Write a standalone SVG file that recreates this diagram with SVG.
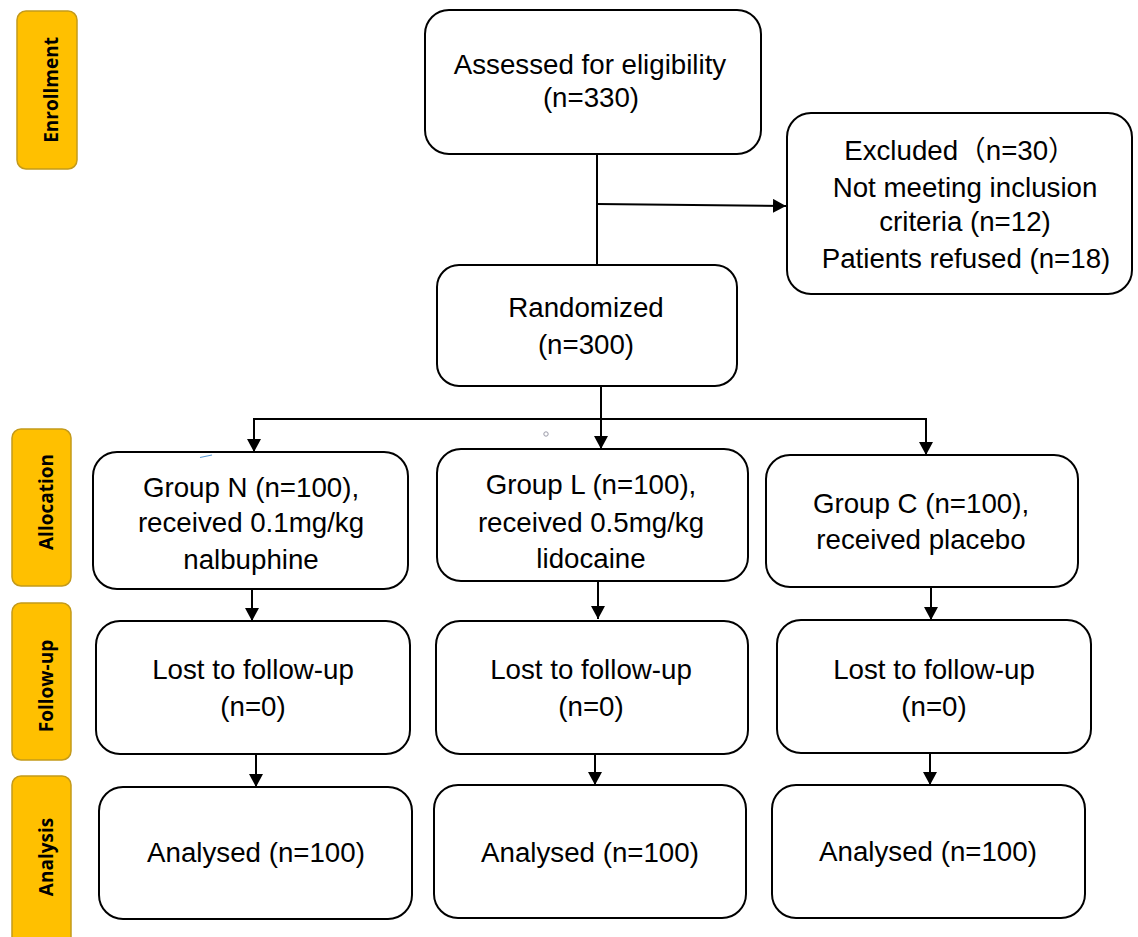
<svg xmlns="http://www.w3.org/2000/svg" width="1138" height="937" viewBox="0 0 1138 937">
<style>
.box{fill:#fff;stroke:#000;stroke-width:2}
.side{fill:#FFC000;stroke:#C49A1A;stroke-width:1.5}
.t{font-family:"Liberation Sans",Arial,"Noto Sans CJK SC",sans-serif;font-size:27.7px;fill:#000;text-anchor:middle}
.s{font-family:"Open Sans","DejaVu Sans",sans-serif;font-weight:bold;font-size:19px;fill:#000;text-anchor:middle}
.c{fill:none;stroke:#000;stroke-width:2}
</style>
<defs>
<marker id="ah" markerUnits="userSpaceOnUse" markerWidth="15" markerHeight="14" refX="13" refY="7" orient="auto">
<path d="M0,0 L13,7 L0,14 Z" fill="#000"/>
</marker>
</defs>
<rect width="1138" height="937" fill="#fff"/>
<g id="stage-enrollment">
<rect class="side" x="17" y="11" width="60" height="158" rx="9"/>
<text class="s" transform="translate(58,90) rotate(-90)">Enrollment</text>
</g>
<g id="stage-allocation">
<rect class="side" x="12" y="429" width="59" height="157" rx="9"/>
<text class="s" transform="translate(53,502) rotate(-90)">Allocation</text>
</g>
<g id="stage-followup">
<rect class="side" x="12" y="603" width="59" height="157" rx="9"/>
<text class="s" transform="translate(53,686) rotate(-90)">Follow-up</text>
</g>
<g id="stage-analysis">
<rect class="side" x="12" y="776" width="59" height="170" rx="9"/>
<text class="s" transform="translate(53,857) rotate(-90)">Analysis</text>
</g>
<g id="connectors">
<line class="c" x1="597" y1="154" x2="597" y2="265"/>
<line class="c" x1="597" y1="204" x2="786" y2="206" marker-end="url(#ah)"/>
<line class="c" x1="601" y1="386" x2="601" y2="449" marker-end="url(#ah)"/>
<line class="c" x1="253" y1="419" x2="927" y2="419"/>
<line class="c" x1="254" y1="419" x2="254" y2="452" marker-end="url(#ah)"/>
<line class="c" x1="926" y1="419" x2="926" y2="455" marker-end="url(#ah)"/>
<line class="c" x1="252" y1="589" x2="252" y2="621" marker-end="url(#ah)"/>
<line class="c" x1="598" y1="581" x2="598" y2="619" marker-end="url(#ah)"/>
<line class="c" x1="931" y1="587" x2="931" y2="620" marker-end="url(#ah)"/>
<line class="c" x1="256" y1="754" x2="256" y2="787" marker-end="url(#ah)"/>
<line class="c" x1="595" y1="754" x2="595" y2="785" marker-end="url(#ah)"/>
<line class="c" x1="930" y1="753" x2="930" y2="785" marker-end="url(#ah)"/>
</g>
<g id="assessed">
<rect class="box" x="425" y="10" width="336" height="144" rx="24"/>
<text class="t" x="590" y="74">Assessed for eligibility</text>
<text class="t" x="591" y="107">(n=330)</text>
</g>
<g id="excluded">
<rect class="box" x="787" y="113" width="345" height="181" rx="24"/>
<text class="t" x="960" y="160">Excluded（n=30）</text>
<text class="t" x="965" y="197">Not meeting inclusion</text>
<text class="t" x="965" y="231">criteria (n=12)</text>
<text class="t" x="966" y="268">Patients refused (n=18)</text>
</g>
<g id="randomized">
<rect class="box" x="437" y="265" width="300" height="121" rx="22"/>
<text class="t" x="586" y="317">Randomized</text>
<text class="t" x="586" y="354">(n=300)</text>
</g>
<g id="group-n">
<rect class="box" x="93" y="452" width="315" height="137" rx="24"/>
<text class="t" x="251" y="497">Group N (n=100),</text>
<text class="t" x="251" y="532">received 0.1mg/kg</text>
<text class="t" x="251" y="569">nalbuphine</text>
</g>
<g id="group-l">
<rect class="box" x="437" y="449" width="311" height="132" rx="24"/>
<text class="t" x="591" y="494">Group L (n=100),</text>
<text class="t" x="591" y="532">received 0.5mg/kg</text>
<text class="t" x="591" y="568">lidocaine</text>
</g>
<g id="group-c">
<rect class="box" x="766" y="455" width="312" height="132" rx="24"/>
<text class="t" x="921" y="513">Group C (n=100),</text>
<text class="t" x="921" y="549">received placebo</text>
</g>
<g id="lost-n">
<rect class="box" x="96" y="621" width="314" height="133" rx="24"/>
<text class="t" x="253" y="679">Lost to follow-up</text>
<text class="t" x="253" y="716">(n=0)</text>
</g>
<g id="lost-l">
<rect class="box" x="436" y="621" width="312" height="133" rx="24"/>
<text class="t" x="591" y="679">Lost to follow-up</text>
<text class="t" x="591" y="716">(n=0)</text>
</g>
<g id="lost-c">
<rect class="box" x="777" y="620" width="314" height="133" rx="24"/>
<text class="t" x="934" y="679">Lost to follow-up</text>
<text class="t" x="934" y="716">(n=0)</text>
</g>
<g id="analysed-n">
<rect class="box" x="99" y="787" width="313" height="132" rx="24"/>
<text class="t" x="256" y="862">Analysed (n=100)</text>
</g>
<g id="analysed-l">
<rect class="box" x="434" y="785" width="312" height="133" rx="24"/>
<text class="t" x="590" y="862">Analysed (n=100)</text>
</g>
<g id="analysed-c">
<rect class="box" x="772" y="785" width="313" height="133" rx="24"/>
<text class="t" x="928" y="861">Analysed (n=100)</text>
</g>
<g id="marks">
<circle cx="546" cy="434" r="2.2" fill="none" stroke="#9A9AA8" stroke-width="1"/>
<line x1="200" y1="457.5" x2="212" y2="455" stroke="#5B9BD5" stroke-width="1.2"/>
</g>
</svg>
